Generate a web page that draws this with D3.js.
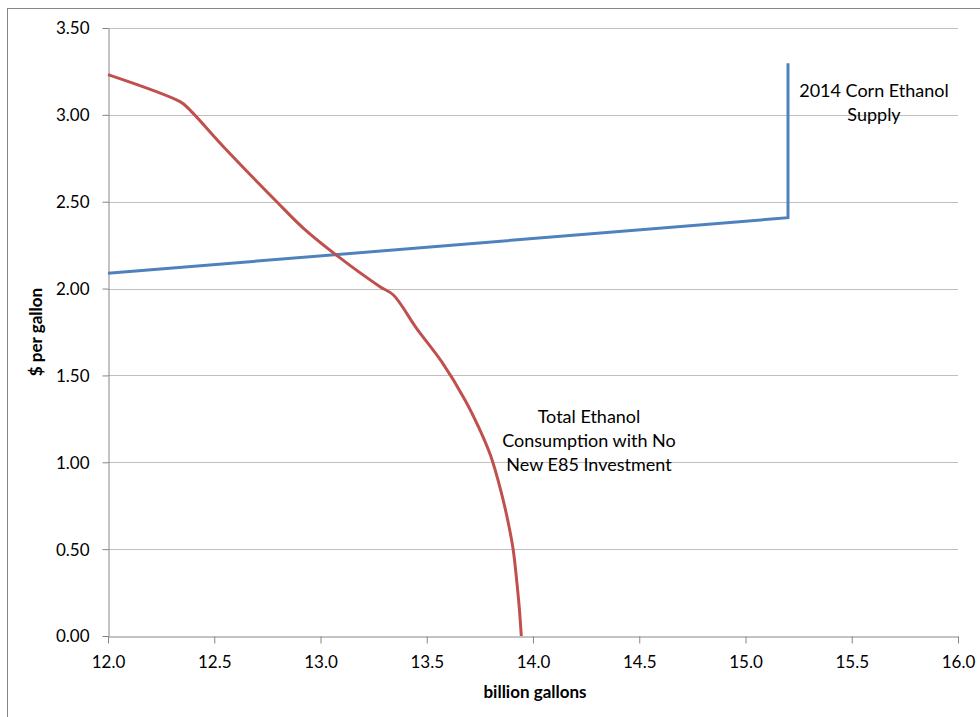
<!DOCTYPE html>
<html><head><meta charset="utf-8">
<script src="https://cdn.jsdelivr.net/npm/d3@7"></script>
<style>body{margin:0;background:#fff}svg{display:block}text{font-family:Lato,"Open Sans",sans-serif}</style>
</head><body><svg id="c" width="980" height="717"></svg>
<script>
const xTicks = [12.0,12.5,13.0,13.5,14.0,14.5,15.0,15.5,16.0];
const yTicks = [0,0.5,1.0,1.5,2.0,2.5,3.0,3.5];
const demandX = [12.0,12.339,12.378,12.55,12.794,12.92,13.084,13.28,13.343,13.452,13.57,13.68,13.743,13.80,13.85,13.884,13.907,13.923,13.935,13.945];
const demandY = [3.232,3.076,3.037,2.808,2.50,2.347,2.184,2.011,1.963,1.771,1.579,1.359,1.205,1.04,0.83,0.649,0.495,0.322,0.169,0.0];
const supplyX = [12.0,15.2,15.2];
const supplyY = [2.088,2.408,3.297];
const supplyLabel = ["2014 Corn Ethanol","Supply"];
const demandLabel = ["Total Ethanol","Consumption with No","New E85 Investment"];

const svg = d3.select("#c");
const L=108,R=958,T=28,B=636;
const x = d3.scaleLinear().domain([12,16]).range([L,R]);
const y = d3.scaleLinear().domain([0,3.5]).range([B,T]);

svg.append("rect").attr("x",7.5).attr("y",8.5).attr("width",1000).attr("height",1000)
  .attr("fill","none").attr("stroke","#868686").attr("stroke-width",1);

svg.append("g").selectAll("line").data(yTicks.filter(d=>d>0)).join("line")
  .attr("x1",L).attr("x2",R).attr("y1",d=>Math.round(y(d))+0.5).attr("y2",d=>Math.round(y(d))+0.5)
  .attr("stroke","#BFBFBF").attr("stroke-width",1);

const xa = svg.append("g").attr("transform",`translate(0,${B+0.5})`)
  .call(d3.axisBottom(x).tickValues(xTicks).tickFormat(d3.format(".1f")).tickSizeInner(7).tickSizeOuter(0));
const ya = svg.append("g").attr("transform",`translate(${L+0.5},0)`)
  .call(d3.axisLeft(y).tickValues(yTicks).tickFormat(d3.format(".2f")).tickSizeInner(6).tickSizeOuter(0));
[xa,ya].forEach(a=>{
  a.select(".domain").attr("stroke","#868686");
  a.selectAll(".tick line").attr("stroke","#868686");
  a.selectAll("text").attr("font-size",17).attr("fill","#000").style("font-family","Lato");
});
xa.selectAll("text").attr("dy","1.25em");
ya.selectAll("text").attr("x",-19).attr("dy","0.35em");

const line = d3.line().x(d=>x(d[0])).y(d=>y(d[1]));
svg.append("path").datum(supplyX.map((v,i)=>[v,supplyY[i]]))
  .attr("d",line).attr("fill","none").attr("stroke","#4F81BD").attr("stroke-width",3);
svg.append("path").datum(demandX.map((v,i)=>[v,demandY[i]]))
  .attr("d",d3.line().x(d=>x(d[0])).y(d=>y(d[1])).curve(d3.curveCatmullRom.alpha(0.5))).attr("fill","none")
  .attr("stroke","#C0504D").attr("stroke-width",3).attr("stroke-linejoin","round");

svg.append("text").attr("text-anchor","middle").attr("font-size",18)
  .selectAll("tspan").data(supplyLabel).join("tspan")
  .attr("x",874).attr("y",(d,i)=>97+i*24).text(d=>d);
svg.append("text").attr("text-anchor","middle").attr("font-size",18)
  .selectAll("tspan").data(demandLabel).join("tspan")
  .attr("x",589).attr("y",(d,i)=>423+i*24).text(d=>d);

svg.append("text").attr("x",535).attr("y",698).attr("text-anchor","middle")
  .attr("font-size",17).attr("font-weight","bold").text("billion gallons");
svg.append("text").attr("transform","translate(42,332) rotate(-90)").attr("text-anchor","middle")
  .attr("font-size",17).attr("font-weight","bold").text("$ per gallon");
</script></body></html>
